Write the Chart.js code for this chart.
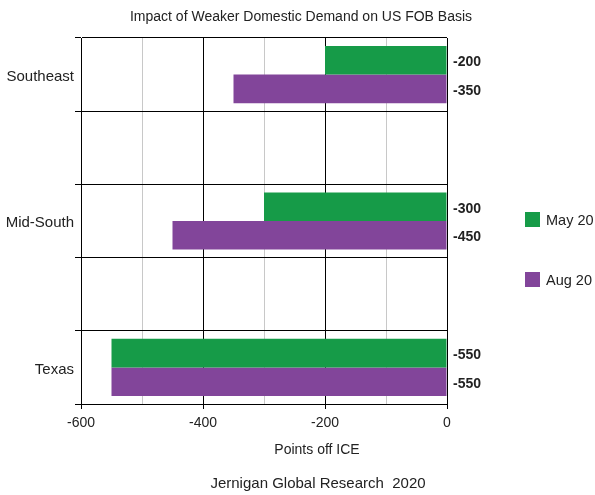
<!DOCTYPE html>
<html>
<head>
<meta charset="utf-8">
<script src="https://cdn.jsdelivr.net/npm/chart.js@4.4.1/dist/chart.umd.min.js"></script>
<style>
  html, body { margin: 0; padding: 0; background: #fff; }
  #wrap { width: 595px; height: 495px; position: relative; }
</style>
</head>
<body>
<div id="wrap"><canvas id="basisChart" width="595" height="495"></canvas></div>
<script>
// regions, with blank rows as spacers between them
const categories = ['Southeast', '', 'Mid-South', '', 'Texas'];
const seriesNames = ['May 20', 'Aug 20'];
const may20 = [-200, null, -300, null, -550];
const aug20 = [-350, null, -450, null, -550];
const xTickLabels = [-600, -400, -200, 0];

const colors = ['#169b48', '#82459a'];
const textColor = '#222';
const fontFamily = '"Liberation Sans", Arial, sans-serif';

const extras = {
    id: 'extras',
    afterDraw(chart) {
        const c = chart.ctx;
        const area = chart.chartArea;
        c.save();
        c.fillStyle = textColor;
        c.textBaseline = 'middle';

        // value labels right of the zero line
        c.font = 'bold 14px ' + fontFamily;
        c.textAlign = 'left';
        chart.data.datasets.forEach((ds, i) => {
            chart.getDatasetMeta(i).data.forEach((bar, j) => {
                if (ds.data[j] == null) return;
                c.fillText(String(ds.data[j]), area.right + 6, bar.y + 2);
            });
        });

        // legend
        c.font = '14.5px ' + fontFamily;
        chart.data.datasets.forEach((ds, i) => {
            const y = 212 + i * 60;
            c.fillStyle = ds.backgroundColor;
            c.fillRect(525, y, 15, 15);
            c.fillStyle = textColor;
            c.fillText(ds.label, 546, y + 9);
        });

        // titles
        c.textAlign = 'center';
        c.font = '14px ' + fontFamily;
        c.fillText('Impact of Weaker Domestic Demand on US FOB Basis', 301, 17);
        c.fillText('Points off ICE', 317, 450);
        c.font = '15px ' + fontFamily;
        c.fillText('Jernigan Global Research  2020', 318, 484);
        c.restore();
    }
};

new Chart(document.getElementById('basisChart'), {
    type: 'bar',
    data: {
        labels: categories,
        datasets: [
            { label: seriesNames[0], data: may20, backgroundColor: colors[0] },
            { label: seriesNames[1], data: aug20, backgroundColor: colors[1] }
        ]
    },
    options: {
        indexAxis: 'y',
        responsive: false,
        animation: false,
        categoryPercentage: 0.78,
        barPercentage: 1,
        layout: { padding: { top: 38, right: 148, left: 0, bottom: 0 } },
        plugins: { legend: { display: false }, title: { display: false }, tooltip: { enabled: false } },
        scales: {
            x: {
                min: -600,
                max: 0,
                afterFit: (s) => { s.height = 91; },
                border: { color: '#000', width: 1 },
                grid: {
                    color: (ctx) => ctx.tick && ctx.tick.value % 200 === 0 ? '#000' : '#c8c8c8',
                    tickColor: (ctx) => ctx.tick && ctx.tick.value % 200 === 0 ? '#000' : 'rgba(0,0,0,0)',
                    tickLength: 5
                },
                ticks: {
                    stepSize: 100,
                    padding: 6,
                    color: textColor,
                    font: { family: fontFamily, size: 14 },
                    maxRotation: 0,
                    callback: (v) => xTickLabels.includes(v) ? String(v) : ''
                }
            },
            y: {
                afterFit: (s) => { s.width = 81; },
                border: { color: '#000', width: 1 },
                grid: { offset: true, color: '#000', tickColor: '#000', tickLength: 6 },
                ticks: {
                    padding: 1,
                    labelOffset: 2,
                    color: textColor,
                    font: { family: fontFamily, size: 15 }
                }
            }
        }
    },
    plugins: [extras]
});
</script>
</body>
</html>
